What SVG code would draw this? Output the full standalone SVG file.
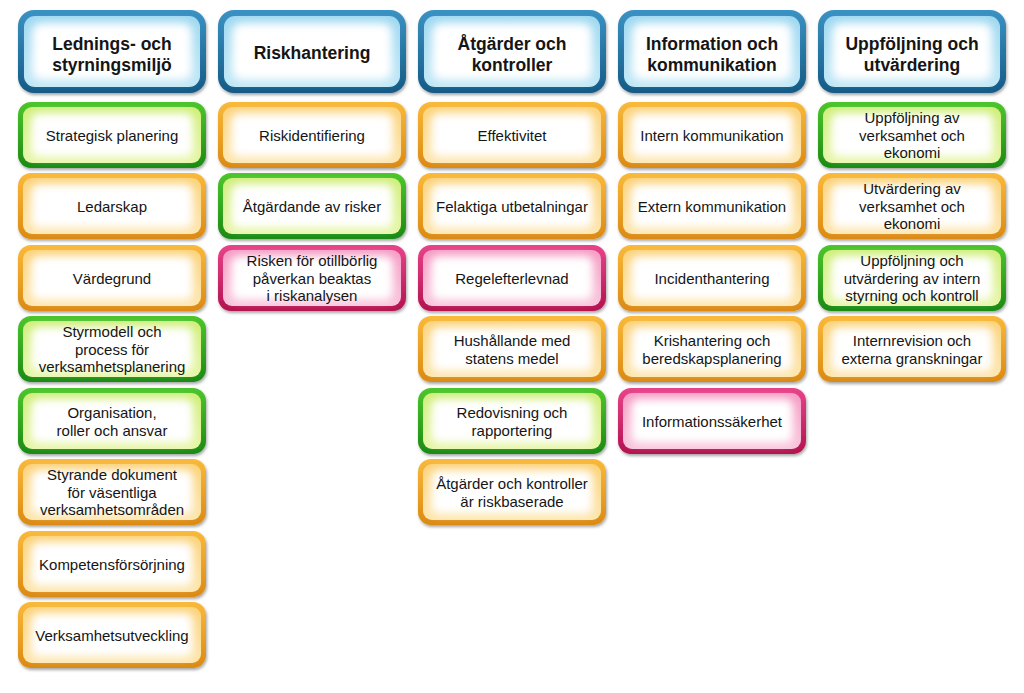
<svg xmlns="http://www.w3.org/2000/svg" width="1024" height="693" viewBox="0 0 1024 693">
<style>
text{font-family:"Liberation Sans",Arial,sans-serif;font-size:15px;fill:#151515;text-anchor:middle}
.hd text{font-size:17.5px;font-weight:bold}
.node .o{filter:url(#sh)}
.node .w{fill:#fff;filter:url(#bl)}
.green .o{fill:url(#gO)} .green .m{fill:url(#gM)}
.orange .o{fill:url(#oO)} .orange .m{fill:url(#oM)}
.pink .o{fill:url(#pO)} .pink .m{fill:url(#pM)}
.blue .o{fill:url(#bO)} .blue .m{fill:url(#bM)}
</style>
<defs>
<filter id="sh" x="-10%" y="-10%" width="120%" height="130%"><feDropShadow dx="1" dy="2" stdDeviation="1.5" flood-color="#000" flood-opacity="0.35"/></filter>
<filter id="bl" x="-20%" y="-40%" width="140%" height="180%"><feGaussianBlur stdDeviation="4"/></filter>
<linearGradient id="gO" x1="0" y1="0" x2="0" y2="1"><stop offset="0" stop-color="#4cc62c"/><stop offset="1" stop-color="#1b8a12"/></linearGradient>
<linearGradient id="gM" x1="0" y1="0" x2="0" y2="1"><stop offset="0" stop-color="#cfee7a"/><stop offset="1" stop-color="#e6f6a8"/></linearGradient>
<linearGradient id="oO" x1="0" y1="0" x2="0" y2="1"><stop offset="0" stop-color="#f9b93a"/><stop offset="1" stop-color="#db8a12"/></linearGradient>
<linearGradient id="oM" x1="0" y1="0" x2="0" y2="1"><stop offset="0" stop-color="#fbd27a"/><stop offset="1" stop-color="#fde6b0"/></linearGradient>
<linearGradient id="pO" x1="0" y1="0" x2="0" y2="1"><stop offset="0" stop-color="#e8438a"/><stop offset="1" stop-color="#b3124f"/></linearGradient>
<linearGradient id="pM" x1="0" y1="0" x2="0" y2="1"><stop offset="0" stop-color="#f59cc4"/><stop offset="1" stop-color="#f9c6dc"/></linearGradient>
<linearGradient id="bO" x1="0" y1="0" x2="0" y2="1"><stop offset="0" stop-color="#3a92c4"/><stop offset="1" stop-color="#155a86"/></linearGradient>
<linearGradient id="bM" x1="0" y1="0" x2="0" y2="1"><stop offset="0" stop-color="#9fd8f0"/><stop offset="1" stop-color="#c2e8f6"/></linearGradient>
</defs>
<rect width="1024" height="693" fill="#fff"/>
<g id="connectors"/>

<!-- headers -->
<g id="h1" class="node blue hd" transform="translate(18,10)"><rect class="o" width="188" height="83" rx="16"/><rect class="m" x="6" y="6" width="176" height="71" rx="11"/><rect class="w" x="14" y="13" width="160" height="57" rx="9"/><text x="94" y="40">Lednings- och</text><text x="94" y="61">styrningsmiljö</text></g>
<g id="h2" class="node blue hd" transform="translate(218,10)"><rect class="o" width="188" height="83" rx="16"/><rect class="m" x="6" y="6" width="176" height="71" rx="11"/><rect class="w" x="14" y="13" width="160" height="57" rx="9"/><text x="94" y="49">Riskhantering</text></g>
<g id="h3" class="node blue hd" transform="translate(418,10)"><rect class="o" width="188" height="83" rx="16"/><rect class="m" x="6" y="6" width="176" height="71" rx="11"/><rect class="w" x="14" y="13" width="160" height="57" rx="9"/><text x="94" y="40">Åtgärder och</text><text x="94" y="61">kontroller</text></g>
<g id="h4" class="node blue hd" transform="translate(618,10)"><rect class="o" width="188" height="83" rx="16"/><rect class="m" x="6" y="6" width="176" height="71" rx="11"/><rect class="w" x="14" y="13" width="160" height="57" rx="9"/><text x="94" y="40">Information och</text><text x="94" y="61">kommunikation</text></g>
<g id="h5" class="node blue hd" transform="translate(818,10)"><rect class="o" width="188" height="83" rx="16"/><rect class="m" x="6" y="6" width="176" height="71" rx="11"/><rect class="w" x="14" y="13" width="160" height="57" rx="9"/><text x="94" y="40">Uppföljning och</text><text x="94" y="61">utvärdering</text></g>

<!-- column 1 -->
<g id="c1a" class="node green" transform="translate(18,102)"><rect class="o" width="188" height="66" rx="13"/><rect class="m" x="5" y="5" width="178" height="56" rx="9"/><rect class="w" x="13" y="11" width="162" height="44" rx="8"/><text x="94" y="38.5">Strategisk planering</text></g>
<g id="c1b" class="node orange" transform="translate(18,173)"><rect class="o" width="188" height="66" rx="13"/><rect class="m" x="5" y="5" width="178" height="56" rx="9"/><rect class="w" x="13" y="11" width="162" height="44" rx="8"/><text x="94" y="38.5">Ledarskap</text></g>
<g id="c1c" class="node orange" transform="translate(18,245)"><rect class="o" width="188" height="66" rx="13"/><rect class="m" x="5" y="5" width="178" height="56" rx="9"/><rect class="w" x="13" y="11" width="162" height="44" rx="8"/><text x="94" y="38.5">Värdegrund</text></g>
<g id="c1d" class="node green" transform="translate(18,316)"><rect class="o" width="188" height="66" rx="13"/><rect class="m" x="5" y="5" width="178" height="56" rx="9"/><rect class="w" x="13" y="11" width="162" height="44" rx="8"/><text x="94" y="21">Styrmodell och</text><text x="94" y="38.5">process för</text><text x="94" y="56">verksamhetsplanering</text></g>
<g id="c1e" class="node green" transform="translate(18,388)"><rect class="o" width="188" height="66" rx="13"/><rect class="m" x="5" y="5" width="178" height="56" rx="9"/><rect class="w" x="13" y="11" width="162" height="44" rx="8"/><text x="94" y="30">Organisation,</text><text x="94" y="47.5">roller och ansvar</text></g>
<g id="c1f" class="node orange" transform="translate(18,459)"><rect class="o" width="188" height="66" rx="13"/><rect class="m" x="5" y="5" width="178" height="56" rx="9"/><rect class="w" x="13" y="11" width="162" height="44" rx="8"/><text x="94" y="21">Styrande dokument</text><text x="94" y="38.5">för väsentliga</text><text x="94" y="56">verksamhetsområden</text></g>
<g id="c1g" class="node orange" transform="translate(18,531)"><rect class="o" width="188" height="66" rx="13"/><rect class="m" x="5" y="5" width="178" height="56" rx="9"/><rect class="w" x="13" y="11" width="162" height="44" rx="8"/><text x="94" y="38.5">Kompetensförsörjning</text></g>
<g id="c1h" class="node orange" transform="translate(18,602)"><rect class="o" width="188" height="66" rx="13"/><rect class="m" x="5" y="5" width="178" height="56" rx="9"/><rect class="w" x="13" y="11" width="162" height="44" rx="8"/><text x="94" y="38.5">Verksamhetsutveckling</text></g>

<!-- column 2 -->
<g id="c2a" class="node orange" transform="translate(218,102)"><rect class="o" width="188" height="66" rx="13"/><rect class="m" x="5" y="5" width="178" height="56" rx="9"/><rect class="w" x="13" y="11" width="162" height="44" rx="8"/><text x="94" y="38.5">Riskidentifiering</text></g>
<g id="c2b" class="node green" transform="translate(218,173)"><rect class="o" width="188" height="66" rx="13"/><rect class="m" x="5" y="5" width="178" height="56" rx="9"/><rect class="w" x="13" y="11" width="162" height="44" rx="8"/><text x="94" y="38.5">Åtgärdande av risker</text></g>
<g id="c2c" class="node pink" transform="translate(218,245)"><rect class="o" width="188" height="66" rx="13"/><rect class="m" x="5" y="5" width="178" height="56" rx="9"/><rect class="w" x="13" y="11" width="162" height="44" rx="8"/><text x="94" y="21">Risken för otillbörlig</text><text x="94" y="38.5">påverkan beaktas</text><text x="94" y="56">i riskanalysen</text></g>

<!-- column 3 -->
<g id="c3a" class="node orange" transform="translate(418,102)"><rect class="o" width="188" height="66" rx="13"/><rect class="m" x="5" y="5" width="178" height="56" rx="9"/><rect class="w" x="13" y="11" width="162" height="44" rx="8"/><text x="94" y="38.5">Effektivitet</text></g>
<g id="c3b" class="node orange" transform="translate(418,173)"><rect class="o" width="188" height="66" rx="13"/><rect class="m" x="5" y="5" width="178" height="56" rx="9"/><rect class="w" x="13" y="11" width="162" height="44" rx="8"/><text x="94" y="38.5">Felaktiga utbetalningar</text></g>
<g id="c3c" class="node pink" transform="translate(418,245)"><rect class="o" width="188" height="66" rx="13"/><rect class="m" x="5" y="5" width="178" height="56" rx="9"/><rect class="w" x="13" y="11" width="162" height="44" rx="8"/><text x="94" y="38.5">Regelefterlevnad</text></g>
<g id="c3d" class="node orange" transform="translate(418,316)"><rect class="o" width="188" height="66" rx="13"/><rect class="m" x="5" y="5" width="178" height="56" rx="9"/><rect class="w" x="13" y="11" width="162" height="44" rx="8"/><text x="94" y="30">Hushållande med</text><text x="94" y="47.5">statens medel</text></g>
<g id="c3e" class="node green" transform="translate(418,388)"><rect class="o" width="188" height="66" rx="13"/><rect class="m" x="5" y="5" width="178" height="56" rx="9"/><rect class="w" x="13" y="11" width="162" height="44" rx="8"/><text x="94" y="30">Redovisning och</text><text x="94" y="47.5">rapportering</text></g>
<g id="c3f" class="node orange" transform="translate(418,459)"><rect class="o" width="188" height="66" rx="13"/><rect class="m" x="5" y="5" width="178" height="56" rx="9"/><rect class="w" x="13" y="11" width="162" height="44" rx="8"/><text x="94" y="30">Åtgärder och kontroller</text><text x="94" y="47.5">är riskbaserade</text></g>

<!-- column 4 -->
<g id="c4a" class="node orange" transform="translate(618,102)"><rect class="o" width="188" height="66" rx="13"/><rect class="m" x="5" y="5" width="178" height="56" rx="9"/><rect class="w" x="13" y="11" width="162" height="44" rx="8"/><text x="94" y="38.5">Intern kommunikation</text></g>
<g id="c4b" class="node orange" transform="translate(618,173)"><rect class="o" width="188" height="66" rx="13"/><rect class="m" x="5" y="5" width="178" height="56" rx="9"/><rect class="w" x="13" y="11" width="162" height="44" rx="8"/><text x="94" y="38.5">Extern kommunikation</text></g>
<g id="c4c" class="node orange" transform="translate(618,245)"><rect class="o" width="188" height="66" rx="13"/><rect class="m" x="5" y="5" width="178" height="56" rx="9"/><rect class="w" x="13" y="11" width="162" height="44" rx="8"/><text x="94" y="38.5">Incidenthantering</text></g>
<g id="c4d" class="node orange" transform="translate(618,316)"><rect class="o" width="188" height="66" rx="13"/><rect class="m" x="5" y="5" width="178" height="56" rx="9"/><rect class="w" x="13" y="11" width="162" height="44" rx="8"/><text x="94" y="30">Krishantering och</text><text x="94" y="47.5">beredskapsplanering</text></g>
<g id="c4e" class="node pink" transform="translate(618,388)"><rect class="o" width="188" height="66" rx="13"/><rect class="m" x="5" y="5" width="178" height="56" rx="9"/><rect class="w" x="13" y="11" width="162" height="44" rx="8"/><text x="94" y="38.5">Informationssäkerhet</text></g>

<!-- column 5 -->
<g id="c5a" class="node green" transform="translate(818,102)"><rect class="o" width="188" height="66" rx="13"/><rect class="m" x="5" y="5" width="178" height="56" rx="9"/><rect class="w" x="13" y="11" width="162" height="44" rx="8"/><text x="94" y="21">Uppföljning av</text><text x="94" y="38.5">verksamhet och</text><text x="94" y="56">ekonomi</text></g>
<g id="c5b" class="node orange" transform="translate(818,173)"><rect class="o" width="188" height="66" rx="13"/><rect class="m" x="5" y="5" width="178" height="56" rx="9"/><rect class="w" x="13" y="11" width="162" height="44" rx="8"/><text x="94" y="21">Utvärdering av</text><text x="94" y="38.5">verksamhet och</text><text x="94" y="56">ekonomi</text></g>
<g id="c5c" class="node green" transform="translate(818,245)"><rect class="o" width="188" height="66" rx="13"/><rect class="m" x="5" y="5" width="178" height="56" rx="9"/><rect class="w" x="13" y="11" width="162" height="44" rx="8"/><text x="94" y="21">Uppföljning och</text><text x="94" y="38.5">utvärdering av intern</text><text x="94" y="56">styrning och kontroll</text></g>
<g id="c5d" class="node orange" transform="translate(818,316)"><rect class="o" width="188" height="66" rx="13"/><rect class="m" x="5" y="5" width="178" height="56" rx="9"/><rect class="w" x="13" y="11" width="162" height="44" rx="8"/><text x="94" y="30">Internrevision och</text><text x="94" y="47.5">externa granskningar</text></g>
</svg>
